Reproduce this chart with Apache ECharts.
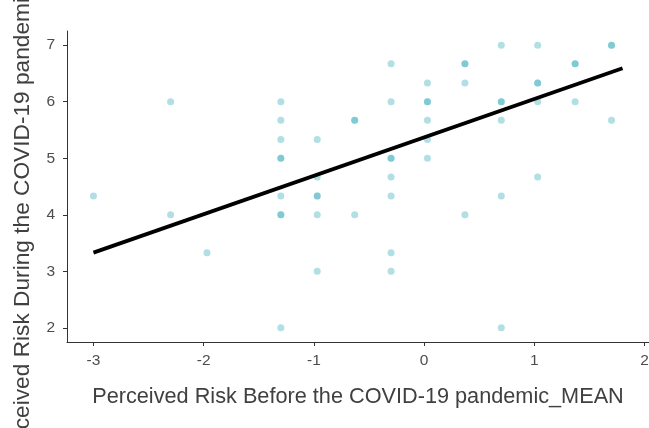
<!DOCTYPE html>
<html>
<head>
<meta charset="utf-8">
<script src="https://cdn.jsdelivr.net/npm/echarts@6/dist/echarts.min.js"></script>
<style>
  html, body { margin: 0; padding: 0; background: #fff; }
  #chart { width: 649px; height: 428px; }
</style>
</head>
<body>
<div id="chart"></div>
<script>
// scatter points (overlapping points are repeated)
const pointX = [
  -3,
  -2.3, -2.3,
  -1.97,
  -1.3, -1.3, -1.3, -1.3, -1.3, -1.3, -1.3, -1.3, -1.3,
  -0.97, -0.97, -0.97, -0.97, -0.97, -0.97,
  -0.63, -0.63, -0.63,
  -0.3, -0.3, -0.3, -0.3, -0.3, -0.3, -0.3, -0.3,
  0.03, 0.03, 0.03, 0.03, 0.03, 0.03,
  0.37, 0.37, 0.37, 0.37,
  0.7, 0.7, 0.7, 0.7, 0.7, 0.7,
  1.03, 1.03, 1.03, 1.03, 1.03,
  1.37, 1.37, 1.37,
  1.7, 1.7, 1.7
]
const pointY = [
  4.33,
  6, 4,
  3.33,
  6, 5.67, 5.33, 5, 5, 4.33, 4, 4, 2,
  5.33, 4.67, 4.33, 4.33, 4, 3,
  5.67, 5.67, 4,
  6.67, 6, 5, 5, 4.67, 4.33, 3.33, 3,
  6.33, 6, 6, 5.67, 5.33, 5,
  6.67, 6.67, 6.33, 4,
  7, 6, 6, 5.67, 4.33, 2,
  7, 6.33, 6.33, 6, 4.67,
  6.67, 6.67, 6,
  7, 7, 5.67
]

// fitted regression line end points
const fitX = [-3, 1.8]
const fitY = [3.33, 6.59]

const xTicks = [-3, -2, -1, 0, 1, 2]
const yTicks = [2, 3, 4, 5, 6, 7]

const fontFamily = '"Liberation Sans", Arial, sans-serif'
const axisColor = '#333333'
const labelColor = '#4d4d4d'

const chart = echarts.init(document.getElementById('chart'))

chart.setOption({
  animation: false,
  backgroundColor: '#ffffff',
  grid: {
    left: 67,
    right: 0,
    top: 31,
    bottom: 86,
    containLabel: false,
    outerBoundsMode: 'none',
  },
  xAxis: {
    type: 'value',
    min: -3.24,
    max: 2.04,
    name: 'Perceived Risk Before the COVID-19 pandemic_MEAN',
    nameLocation: 'middle',
    nameGap: 44,
    nameTextStyle: { color: '#404040', fontSize: 21.7, fontFamily },
    axisLine: { show: true, onZero: false, lineStyle: { color: axisColor, width: 1 } },
    axisTick: { show: true, length: 4, customValues: xTicks, lineStyle: { color: axisColor } },
    axisLabel: {
      customValues: xTicks,
      color: labelColor,
      fontSize: 15.5,
      fontFamily,
      margin: 11,
      showMinLabel: true,
      showMaxLabel: true,
    },
    splitLine: { show: false },
  },
  yAxis: {
    type: 'value',
    min: 1.75,
    max: 7.25,
    name: 'Perceived Risk During the COVID-19 pandemic_MEAN',
    nameLocation: 'middle',
    nameGap: 33,
    nameRotate: 90,
    nameTextStyle: { color: '#404040', fontSize: 22.7, fontFamily },
    axisLine: { show: true, onZero: false, lineStyle: { color: axisColor, width: 1 } },
    axisTick: { show: true, length: 4, customValues: yTicks, lineStyle: { color: axisColor } },
    axisLabel: {
      customValues: yTicks,
      color: labelColor,
      fontSize: 15.5,
      fontFamily,
      margin: 12,
    },
    splitLine: { show: false },
  },
  series: [
    {
      type: 'scatter',
      symbolSize: 7,
      itemStyle: { color: 'rgb(40,165,180)', opacity: 0.36 },
      data: pointX.map((x, i) => [x, pointY[i]]),
      z: 2,
    },
    {
      type: 'line',
      showSymbol: false,
      symbol: 'none',
      lineStyle: { color: '#000000', width: 3.8 },
      data: fitX.map((x, i) => [x, fitY[i]]),
      z: 3,
    },
  ],
})
</script>
</body>
</html>
